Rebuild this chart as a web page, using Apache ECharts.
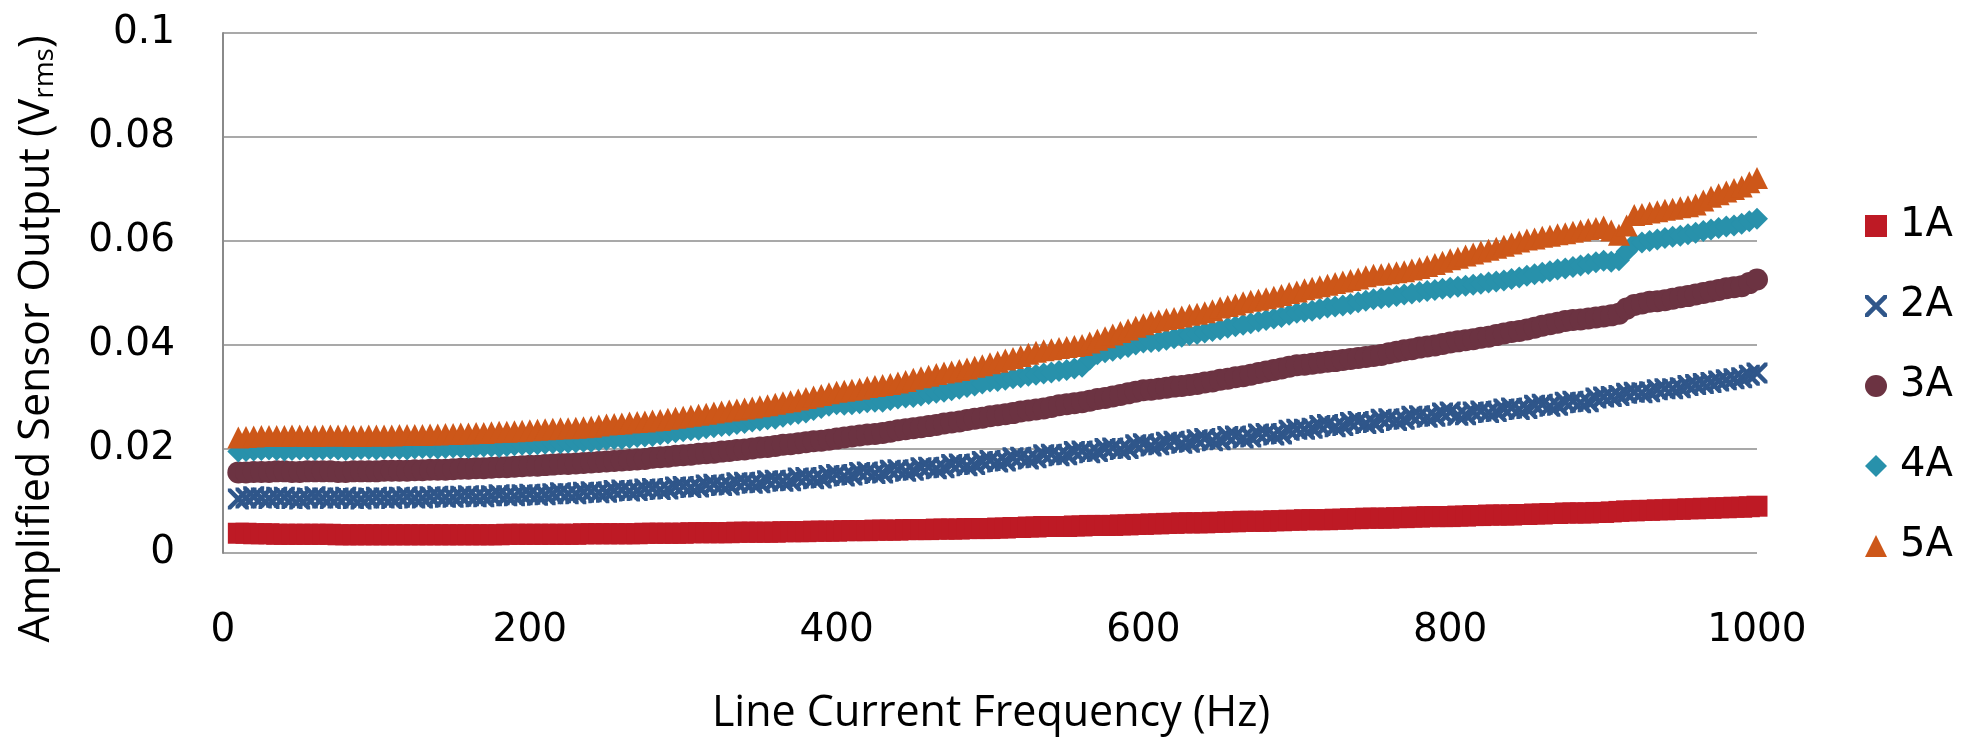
<!DOCTYPE html>
<html>
<head>
<meta charset="utf-8">
<title>Amplified Sensor Output vs Line Current Frequency</title>
<script src="https://cdn.jsdelivr.net/npm/echarts@6/dist/echarts.min.js"></script>
<style>
  html, body { margin: 0; padding: 0; background: #fff; }
  #chart { width: 1975px; height: 739px; }
</style>
</head>
<body>
<div id="chart"></div>
<script>
// frequency (Hz) of every measured point, 5 Hz sweep
const freqs = [
  10, 15, 20, 25, 30, 35, 40, 45, 50, 55, 60, 65, 70, 75, 80, 85, 90, 95, 100,
  105, 110, 115, 120, 125, 130, 135, 140, 145, 150, 155, 160, 165, 170, 175, 180, 185, 190, 195, 200,
  205, 210, 215, 220, 225, 230, 235, 240, 245, 250, 255, 260, 265, 270, 275, 280, 285, 290, 295, 300,
  305, 310, 315, 320, 325, 330, 335, 340, 345, 350, 355, 360, 365, 370, 375, 380, 385, 390, 395, 400,
  405, 410, 415, 420, 425, 430, 435, 440, 445, 450, 455, 460, 465, 470, 475, 480, 485, 490, 495, 500,
  505, 510, 515, 520, 525, 530, 535, 540, 545, 550, 555, 560, 565, 570, 575, 580, 585, 590, 595, 600,
  605, 610, 615, 620, 625, 630, 635, 640, 645, 650, 655, 660, 665, 670, 675, 680, 685, 690, 695, 700,
  705, 710, 715, 720, 725, 730, 735, 740, 745, 750, 755, 760, 765, 770, 775, 780, 785, 790, 795, 800,
  805, 810, 815, 820, 825, 830, 835, 840, 845, 850, 855, 860, 865, 870, 875, 880, 885, 890, 895, 900,
  905, 910, 915, 920, 925, 930, 935, 940, 945, 950, 955, 960, 965, 970, 975, 980, 985, 990, 995, 1000
]

const seriesNames = ['1A', '2A', '3A', '4A', '5A']

// amplified sensor output (Vrms)
const out1A = [
  0.0038, 0.0038, 0.0037, 0.0037, 0.0037, 0.0036, 0.0036, 0.0036, 0.0036, 0.0036, 0.0036, 0.0036, 0.0036, 0.0035, 0.0035, 0.0035, 0.0035, 0.0035, 0.0035,
  0.0035, 0.0035, 0.0035, 0.0035, 0.0035, 0.0035, 0.0035, 0.0035, 0.0035, 0.0035, 0.0035, 0.0035, 0.0035, 0.0035, 0.0035, 0.0035, 0.0036, 0.0036, 0.0036, 0.0036,
  0.0036, 0.0036, 0.0036, 0.0036, 0.0036, 0.0036, 0.0037, 0.0037, 0.0037, 0.0037, 0.0037, 0.0037, 0.0037, 0.0037, 0.0038, 0.0038, 0.0038, 0.0038, 0.0038, 0.0038,
  0.0039, 0.0039, 0.0039, 0.0039, 0.0039, 0.0039, 0.0040, 0.0040, 0.0040, 0.0040, 0.0040, 0.0040, 0.0041, 0.0041, 0.0041, 0.0041, 0.0042, 0.0042, 0.0042, 0.0042,
  0.0043, 0.0043, 0.0043, 0.0043, 0.0044, 0.0044, 0.0044, 0.0044, 0.0045, 0.0045, 0.0045, 0.0045, 0.0046, 0.0046, 0.0046, 0.0046, 0.0047, 0.0047, 0.0047, 0.0047,
  0.0048, 0.0048, 0.0049, 0.0049, 0.0050, 0.0050, 0.0051, 0.0051, 0.0051, 0.0051, 0.0052, 0.0052, 0.0053, 0.0053, 0.0053, 0.0053, 0.0054, 0.0054, 0.0055, 0.0055,
  0.0056, 0.0056, 0.0057, 0.0057, 0.0058, 0.0058, 0.0058, 0.0058, 0.0059, 0.0059, 0.0060, 0.0060, 0.0061, 0.0061, 0.0061, 0.0061, 0.0062, 0.0062, 0.0063, 0.0063,
  0.0064, 0.0064, 0.0064, 0.0064, 0.0065, 0.0065, 0.0066, 0.0066, 0.0067, 0.0067, 0.0067, 0.0067, 0.0068, 0.0068, 0.0069, 0.0069, 0.0070, 0.0070, 0.0070, 0.0070,
  0.0071, 0.0071, 0.0072, 0.0072, 0.0073, 0.0073, 0.0073, 0.0073, 0.0074, 0.0074, 0.0075, 0.0075, 0.0076, 0.0076, 0.0077, 0.0077, 0.0077, 0.0077, 0.0078, 0.0078,
  0.0079, 0.0080, 0.0081, 0.0081, 0.0082, 0.0082, 0.0083, 0.0083, 0.0084, 0.0084, 0.0085, 0.0085, 0.0086, 0.0086, 0.0087, 0.0087, 0.0088, 0.0088, 0.0089, 0.0090
]
const out2A = [
  0.0104, 0.0106, 0.0108, 0.0106, 0.0105, 0.0107, 0.0107, 0.0105, 0.0104, 0.0106, 0.0108, 0.0106, 0.0105, 0.0106, 0.0107, 0.0105, 0.0104, 0.0106, 0.0107,
  0.0106, 0.0105, 0.0107, 0.0108, 0.0106, 0.0106, 0.0108, 0.0109, 0.0107, 0.0107, 0.0109, 0.0110, 0.0108, 0.0108, 0.0110, 0.0112, 0.0110, 0.0110, 0.0112, 0.0113,
  0.0111, 0.0112, 0.0114, 0.0116, 0.0114, 0.0114, 0.0117, 0.0118, 0.0116, 0.0117, 0.0120, 0.0121, 0.0119, 0.0120, 0.0123, 0.0124, 0.0122, 0.0123, 0.0127, 0.0128,
  0.0126, 0.0127, 0.0131, 0.0132, 0.0130, 0.0131, 0.0135, 0.0136, 0.0134, 0.0135, 0.0139, 0.0140, 0.0138, 0.0139, 0.0144, 0.0145, 0.0143, 0.0144, 0.0149, 0.0151,
  0.0148, 0.0150, 0.0155, 0.0156, 0.0153, 0.0154, 0.0159, 0.0160, 0.0157, 0.0159, 0.0164, 0.0165, 0.0162, 0.0164, 0.0170, 0.0171, 0.0168, 0.0170, 0.0176, 0.0178,
  0.0175, 0.0177, 0.0183, 0.0184, 0.0181, 0.0183, 0.0189, 0.0190, 0.0187, 0.0189, 0.0195, 0.0196, 0.0193, 0.0195, 0.0201, 0.0202, 0.0199, 0.0201, 0.0208, 0.0210,
  0.0206, 0.0208, 0.0213, 0.0215, 0.0211, 0.0213, 0.0218, 0.0220, 0.0216, 0.0218, 0.0224, 0.0225, 0.0221, 0.0223, 0.0229, 0.0230, 0.0227, 0.0229, 0.0236, 0.0238,
  0.0238, 0.0240, 0.0245, 0.0247, 0.0243, 0.0245, 0.0251, 0.0253, 0.0249, 0.0251, 0.0257, 0.0258, 0.0255, 0.0257, 0.0263, 0.0264, 0.0261, 0.0263, 0.0269, 0.0271,
  0.0265, 0.0266, 0.0271, 0.0273, 0.0270, 0.0272, 0.0277, 0.0279, 0.0276, 0.0278, 0.0284, 0.0286, 0.0282, 0.0284, 0.0290, 0.0292, 0.0289, 0.0291, 0.0298, 0.0300,
  0.0301, 0.0303, 0.0307, 0.0309, 0.0308, 0.0310, 0.0314, 0.0316, 0.0316, 0.0318, 0.0322, 0.0324, 0.0326, 0.0328, 0.0331, 0.0333, 0.0335, 0.0337, 0.0342, 0.0346
]
const out3A = [
  0.0155, 0.0155, 0.0156, 0.0156, 0.0156, 0.0157, 0.0157, 0.0156, 0.0156, 0.0157, 0.0157, 0.0157, 0.0157, 0.0156, 0.0156, 0.0157, 0.0157, 0.0157, 0.0157,
  0.0158, 0.0158, 0.0158, 0.0158, 0.0159, 0.0159, 0.0160, 0.0160, 0.0160, 0.0161, 0.0162, 0.0162, 0.0163, 0.0163, 0.0164, 0.0165, 0.0165, 0.0166, 0.0167, 0.0168,
  0.0168, 0.0169, 0.0170, 0.0171, 0.0171, 0.0172, 0.0173, 0.0174, 0.0175, 0.0176, 0.0177, 0.0178, 0.0179, 0.0180, 0.0181, 0.0183, 0.0184, 0.0185, 0.0187, 0.0188,
  0.0189, 0.0191, 0.0192, 0.0193, 0.0195, 0.0196, 0.0198, 0.0199, 0.0201, 0.0203, 0.0204, 0.0206, 0.0208, 0.0209, 0.0211, 0.0213, 0.0215, 0.0216, 0.0218, 0.0220,
  0.0222, 0.0224, 0.0226, 0.0228, 0.0229, 0.0231, 0.0233, 0.0236, 0.0238, 0.0240, 0.0242, 0.0244, 0.0246, 0.0249, 0.0251, 0.0253, 0.0256, 0.0258, 0.0260, 0.0263,
  0.0265, 0.0267, 0.0269, 0.0272, 0.0274, 0.0276, 0.0278, 0.0281, 0.0284, 0.0286, 0.0288, 0.0290, 0.0293, 0.0296, 0.0298, 0.0301, 0.0304, 0.0307, 0.0310, 0.0313,
  0.0314, 0.0316, 0.0318, 0.0320, 0.0321, 0.0323, 0.0325, 0.0328, 0.0330, 0.0333, 0.0335, 0.0338, 0.0340, 0.0343, 0.0346, 0.0349, 0.0352, 0.0355, 0.0358, 0.0361,
  0.0362, 0.0364, 0.0366, 0.0368, 0.0369, 0.0371, 0.0373, 0.0375, 0.0377, 0.0379, 0.0381, 0.0384, 0.0387, 0.0390, 0.0392, 0.0395, 0.0397, 0.0399, 0.0402, 0.0405,
  0.0407, 0.0409, 0.0411, 0.0414, 0.0416, 0.0419, 0.0422, 0.0425, 0.0427, 0.0430, 0.0433, 0.0437, 0.0440, 0.0443, 0.0446, 0.0448, 0.0449, 0.0451, 0.0453, 0.0455,
  0.0457, 0.0460, 0.0470, 0.0477, 0.0480, 0.0483, 0.0484, 0.0486, 0.0489, 0.0492, 0.0494, 0.0497, 0.0500, 0.0503, 0.0506, 0.0509, 0.0511, 0.0513, 0.0519, 0.0526
]
const out4A = [
  0.0195, 0.0196, 0.0197, 0.0198, 0.0199, 0.0198, 0.0197, 0.0198, 0.0199, 0.0199, 0.0198, 0.0199, 0.0200, 0.0199, 0.0198, 0.0199, 0.0200, 0.0200, 0.0199,
  0.0200, 0.0201, 0.0200, 0.0199, 0.0201, 0.0202, 0.0202, 0.0201, 0.0202, 0.0203, 0.0203, 0.0202, 0.0204, 0.0205, 0.0205, 0.0204, 0.0206, 0.0207, 0.0208, 0.0208,
  0.0209, 0.0210, 0.0211, 0.0211, 0.0212, 0.0213, 0.0214, 0.0214, 0.0216, 0.0218, 0.0219, 0.0219, 0.0221, 0.0223, 0.0224, 0.0225, 0.0228, 0.0230, 0.0232, 0.0234,
  0.0236, 0.0237, 0.0240, 0.0242, 0.0244, 0.0245, 0.0248, 0.0250, 0.0253, 0.0255, 0.0257, 0.0258, 0.0262, 0.0266, 0.0268, 0.0270, 0.0275, 0.0279, 0.0283, 0.0286,
  0.0285, 0.0286, 0.0288, 0.0290, 0.0291, 0.0291, 0.0294, 0.0297, 0.0299, 0.0300, 0.0303, 0.0306, 0.0308, 0.0310, 0.0313, 0.0316, 0.0319, 0.0322, 0.0326, 0.0330,
  0.0331, 0.0333, 0.0336, 0.0338, 0.0341, 0.0343, 0.0345, 0.0347, 0.0350, 0.0352, 0.0355, 0.0358, 0.0372, 0.0382, 0.0386, 0.0389, 0.0393, 0.0396, 0.0401, 0.0405,
  0.0406, 0.0407, 0.0410, 0.0413, 0.0416, 0.0419, 0.0421, 0.0424, 0.0427, 0.0430, 0.0433, 0.0436, 0.0439, 0.0442, 0.0445, 0.0448, 0.0451, 0.0454, 0.0458, 0.0462,
  0.0464, 0.0466, 0.0469, 0.0472, 0.0474, 0.0476, 0.0479, 0.0482, 0.0485, 0.0488, 0.0490, 0.0492, 0.0494, 0.0497, 0.0499, 0.0502, 0.0504, 0.0506, 0.0508, 0.0510,
  0.0512, 0.0514, 0.0516, 0.0518, 0.0520, 0.0522, 0.0524, 0.0527, 0.0530, 0.0533, 0.0536, 0.0539, 0.0542, 0.0545, 0.0547, 0.0550, 0.0553, 0.0556, 0.0559, 0.0562,
  0.0560, 0.0563, 0.0580, 0.0595, 0.0597, 0.0600, 0.0603, 0.0606, 0.0608, 0.0610, 0.0613, 0.0616, 0.0619, 0.0622, 0.0625, 0.0628, 0.0630, 0.0633, 0.0638, 0.0643
]
const out5A = [
  0.0222, 0.0223, 0.0224, 0.0225, 0.0225, 0.0225, 0.0225, 0.0226, 0.0226, 0.0225, 0.0225, 0.0226, 0.0226, 0.0226, 0.0226, 0.0225, 0.0225, 0.0226, 0.0226,
  0.0226, 0.0226, 0.0227, 0.0227, 0.0227, 0.0227, 0.0228, 0.0228, 0.0229, 0.0229, 0.0230, 0.0230, 0.0231, 0.0231, 0.0232, 0.0233, 0.0233, 0.0234, 0.0235, 0.0236,
  0.0237, 0.0238, 0.0239, 0.0240, 0.0240, 0.0241, 0.0242, 0.0243, 0.0245, 0.0247, 0.0248, 0.0249, 0.0251, 0.0252, 0.0253, 0.0255, 0.0256, 0.0258, 0.0260, 0.0262,
  0.0264, 0.0266, 0.0268, 0.0270, 0.0272, 0.0274, 0.0276, 0.0278, 0.0280, 0.0282, 0.0284, 0.0287, 0.0290, 0.0292, 0.0295, 0.0298, 0.0301, 0.0304, 0.0307, 0.0310,
  0.0312, 0.0314, 0.0316, 0.0319, 0.0321, 0.0323, 0.0325, 0.0328, 0.0331, 0.0335, 0.0338, 0.0341, 0.0344, 0.0347, 0.0349, 0.0352, 0.0355, 0.0358, 0.0361, 0.0365,
  0.0368, 0.0372, 0.0375, 0.0379, 0.0383, 0.0387, 0.0390, 0.0392, 0.0394, 0.0396, 0.0398, 0.0400, 0.0405, 0.0410, 0.0415, 0.0420, 0.0425, 0.0430, 0.0435, 0.0440,
  0.0444, 0.0447, 0.0450, 0.0452, 0.0455, 0.0458, 0.0460, 0.0463, 0.0467, 0.0472, 0.0475, 0.0478, 0.0482, 0.0485, 0.0487, 0.0490, 0.0493, 0.0496, 0.0500, 0.0503,
  0.0507, 0.0510, 0.0513, 0.0516, 0.0519, 0.0522, 0.0525, 0.0528, 0.0532, 0.0535, 0.0536, 0.0538, 0.0540, 0.0542, 0.0545, 0.0548, 0.0552, 0.0556, 0.0560, 0.0565,
  0.0568, 0.0572, 0.0576, 0.0580, 0.0583, 0.0587, 0.0591, 0.0595, 0.0599, 0.0603, 0.0605, 0.0608, 0.0610, 0.0613, 0.0615, 0.0618, 0.0620, 0.0623, 0.0625, 0.0628,
  0.0620, 0.0612, 0.0630, 0.0650, 0.0652, 0.0655, 0.0657, 0.0660, 0.0662, 0.0665, 0.0667, 0.0670, 0.0678, 0.0685, 0.0690, 0.0695, 0.0700, 0.0705, 0.0713, 0.0721
]

const colors = ['#be1a25', '#2f568a', '#6c3342', '#2891ab', '#cd5719']
// the "x" marker of the 2A series
const crossPath = 'path://M0,0 L3,0 L10,7 L17,0 L20,0 L20,3 L13,10 L20,17 L20,20 L17,20 L10,13 L3,20 L0,20 L0,17 L7,10 L0,3 Z'
const symbols = ['rect', crossPath, 'circle', 'diamond', 'triangle']
const sizes = [21, 21, 22, 22, 22]

const numFont = 'DejaVu Sans'
const titleFont = 'Open Sans'

const chart = echarts.init(document.getElementById('chart'))

const getOption = () => {
    const outputs = [out1A, out2A, out3A, out4A, out5A]
    return {
        animation: false,
        backgroundColor: '#fff',
        grid: {
            left: 223,
            right: 218,
            top: 33,
            bottom: 186,
            containLabel: false,
            outerBoundsMode: 'none'
        },
        xAxis: {
            type: 'value',
            min: 0,
            max: 1000,
            interval: 200,
            axisLine: {show: false},
            axisTick: {show: false},
            splitLine: {show: false},
            axisLabel: {
                margin: 58,
                color: '#000',
                fontFamily: numFont,
                fontSize: 39,
                lineHeight: 40,
                formatter: v => String(v)
            }
        },
        yAxis: {
            type: 'value',
            min: 0,
            max: 0.1,
            interval: 0.02,
            axisLine: {show: true, lineStyle: {color: '#8a8a8a', width: 2}},
            axisTick: {show: false},
            splitLine: {lineStyle: {color: '#8c8c8c', width: 1.5}},
            axisLabel: {
                margin: 48,
                color: '#000',
                fontFamily: numFont,
                fontSize: 39,
                lineHeight: 40,
                padding: [0, 0, 14, 0]
            }
        },
        legend: {
            orient: 'vertical',
            left: 1865,
            top: 206,
            padding: 0,
            itemWidth: 22,
            itemHeight: 22,
            itemGap: 40,
            selectedMode: false,
            textStyle: {
                color: '#000',
                fontFamily: numFont,
                fontSize: 40,
                lineHeight: 40,
                padding: [0, 0, 0, 8]
            },
            data: seriesNames
        },
        graphic: [
            {
                type: 'text',
                x: 37,
                y: 339,
                rotation: Math.PI / 2,
                style: {
                    text: 'Amplified Sensor Output (V{sub|rms})',
                    fill: '#000',
                    fontFamily: titleFont,
                    fontSize: 43,
                    align: 'center',
                    verticalAlign: 'middle',
                    rich: {
                        sub: {
                            fontFamily: titleFont,
                            fontSize: 28,
                            fill: '#000',
                            padding: [17, 0, 0, 0]
                        }
                    }
                }
            },
            {
                type: 'text',
                x: 991,
                y: 714,
                style: {
                    text: 'Line Current Frequency (Hz)',
                    fill: '#000',
                    fontFamily: titleFont,
                    fontSize: 43,
                    align: 'center',
                    verticalAlign: 'middle'
                }
            }
        ],
        series: seriesNames.map((name, i) => ({
            name: name,
            type: 'scatter',
            symbol: symbols[i],
            symbolSize: sizes[i],
            itemStyle: {color: colors[i], opacity: 1},
            silent: true,
            data: freqs.map((f, k) => [f, outputs[i][k]])
        }))
    }
}

chart.setOption(getOption())
</script>
</body>
</html>
